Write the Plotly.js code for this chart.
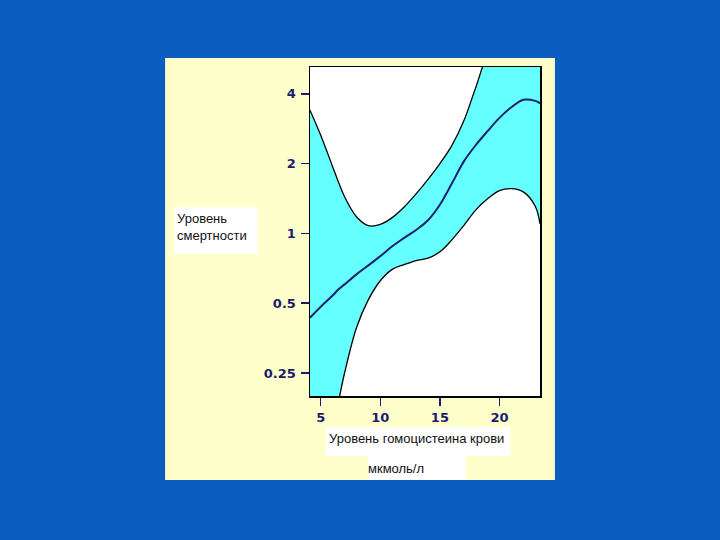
<!DOCTYPE html>
<html>
<head>
<meta charset="utf-8">
<script src="https://cdn.plot.ly/plotly-3.0.1.min.js"></script>
<style>html,body{margin:0;padding:0;background:#0b5ec0;}</style>
</head>
<body>
<div id="chart" style="width:720px;height:540px;"></div>
<script>
// Homocysteine level (µmol/L)
const homocysteine = [4.1, 5, 6, 6.5, 7, 8, 9, 10, 11, 12, 13, 14, 15, 16, 17, 18, 19, 20, 21, 22, 23, 23.4];
// Mortality estimate (relative)
const mortality = [0.433, 0.483, 0.540, 0.574, 0.603, 0.666, 0.728, 0.798, 0.88, 0.956, 1.035, 1.14, 1.33, 1.64, 2.04, 2.40, 2.76, 3.15, 3.50, 3.77, 3.73, 3.64];
// Upper confidence bound
const upperCI = [3.40, 2.65, 1.94, 1.66, 1.44, 1.18, 1.08, 1.094, 1.17, 1.30, 1.48, 1.71, 2.0, 2.39, 3.05, 4.25, 5.9, 6.9, 7.9, 8.8, 9.6, 10.0];
// Lower confidence bound
const lowerCI = [0.09, 0.11, 0.15, 0.19, 0.25, 0.392, 0.518, 0.625, 0.70, 0.734, 0.764, 0.782, 0.833, 0.938, 1.08, 1.26, 1.41, 1.53, 1.56, 1.51, 1.31, 1.10];

const xTicks = [5, 10, 15, 20];
const yTicks = [0.25, 0.5, 1, 2, 4];
const yTickText = ['0.25', '0.5', '1', '2', '4'];

const yLabel = 'Уровень<br>смертности';
const xLabel = 'Уровень гомоцистеина крови';
const xUnit = 'мкмоль/л';

const navy = '#1c1c6e';

const traces = [
  {x: homocysteine, y: lowerCI, type: 'scatter', mode: 'lines',
   line: {color: '#000000', width: 1.3, shape: 'spline', smoothing: 1}, hoverinfo: 'skip', showlegend: false},
  {x: homocysteine, y: upperCI, type: 'scatter', mode: 'lines', fill: 'tonexty', fillcolor: '#66ffff',
   line: {color: '#000000', width: 1.3, shape: 'spline', smoothing: 1}, hoverinfo: 'skip', showlegend: false},
  {x: homocysteine, y: mortality, type: 'scatter', mode: 'lines',
   line: {color: '#15236e', width: 2, shape: 'spline', smoothing: 1}, showlegend: false}
];

const layout = {
  width: 720, height: 540,
  paper_bgcolor: '#0b5ec0',
  plot_bgcolor: '#ffffff',
  margin: {l: 310, r: 180, t: 67, b: 144, pad: 0},
  showlegend: false,
  xaxis: {
    range: [4.1, 23.4], tickvals: xTicks, ticks: 'outside', ticklen: 8, tickwidth: 1.5, tickcolor: navy,
    ticklabelstandoff: 1,
    showline: true, mirror: true, linecolor: '#000000', linewidth: 1.5, showgrid: false, zeroline: false,
    tickfont: {family: 'DejaVu Sans', size: 13, color: navy, weight: 'bold'}
  },
  yaxis: {
    type: 'log', range: [Math.log10(0.199), Math.log10(5.22)],
    tickvals: yTicks, ticktext: yTickText, ticks: 'outside', ticklen: 8, tickwidth: 1.5, tickcolor: navy,
    ticklabelstandoff: 2,
    showline: true, mirror: true, linecolor: '#000000', linewidth: 1.5, showgrid: false, zeroline: false,
    tickfont: {family: 'DejaVu Sans', size: 13, color: navy, weight: 'bold'}
  },
  shapes: [
    {type: 'rect', xref: 'paper', yref: 'paper', x0: -0.630, x1: 1.065, y0: -0.255, y1: 1.027,
     fillcolor: '#ffffcc', line: {width: 0}, layer: 'below'},
    {type: 'rect', xref: 'paper', yref: 'paper', x0: 0, x1: 1, y0: 0, y1: 1,
     fillcolor: '#ffffff', line: {width: 0}, layer: 'below'},
    {type: 'rect', xref: 'paper', yref: 'paper', x0: -0.591, x1: -0.226, y0: 0.432, y1: 0.574,
     fillcolor: '#ffffff', line: {width: 0}, layer: 'below'},
    {type: 'rect', xref: 'paper', yref: 'paper', x0: 0.0696, x1: 0.870, y0: -0.182, y1: -0.094,
     fillcolor: '#ffffff', line: {width: 0}, layer: 'below'},
    {type: 'rect', xref: 'paper', yref: 'paper', x0: 0.252, x1: 0.678, y0: -0.255, y1: -0.179,
     fillcolor: '#ffffff', line: {width: 0}, layer: 'below'}
  ],
  annotations: [
    {text: yLabel, xref: 'paper', yref: 'paper', x: -0.587, y: 0.568, xanchor: 'left', yanchor: 'top',
     align: 'left', showarrow: false, font: {family: 'Liberation Sans', size: 13, color: '#111111'}},
    {text: xLabel, xref: 'paper', yref: 'paper', x: 0.465, y: -0.128, xanchor: 'center', yanchor: 'middle',
     showarrow: false, font: {family: 'Liberation Sans', size: 13, color: '#111111'}},
    {text: xUnit, xref: 'paper', yref: 'paper', x: 0.374, y: -0.219, xanchor: 'center', yanchor: 'middle',
     showarrow: false, font: {family: 'Liberation Sans', size: 13, color: '#111111'}}
  ]
};

Plotly.newPlot('chart', traces, layout, {displayModeBar: false, staticPlot: true});
</script>
</body>
</html>
